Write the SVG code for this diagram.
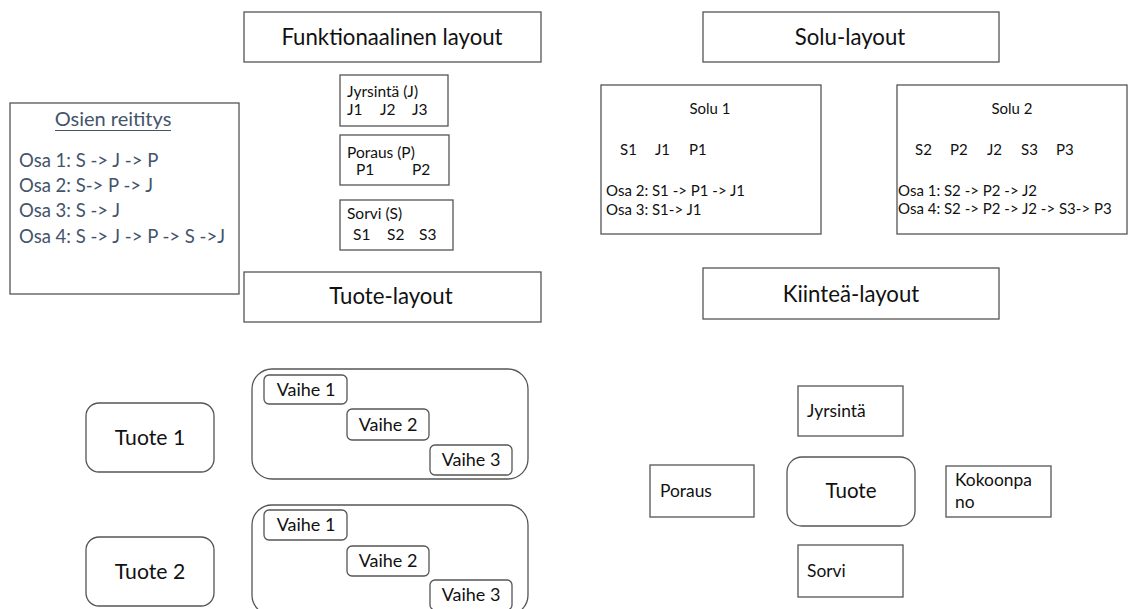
<svg xmlns="http://www.w3.org/2000/svg" width="1131" height="609" viewBox="0 0 1131 609">
  <style>
    .box { fill: #ffffff; stroke: #555555; stroke-width: 1.3; }
    .rbox { fill: #ffffff; stroke: #555555; stroke-width: 1.3; }
    text { font-family: Lato, "Liberation Sans", sans-serif; fill: #111111; }
    .head { font-size: 22.2px; text-anchor: middle; }
    .big { font-size: 21.2px; text-anchor: middle; }
    .step { font-size: 18px; text-anchor: middle; }
    .mid { font-size: 17.4px; }
    .small { font-size: 15.5px; }
    .cell { font-size: 15px; }
    .route { font-size: 18.5px; fill: #44546A; }
    .title { font-size: 20px; fill: #44546A; text-anchor: middle; }
  </style>

  <rect width="1131" height="609" fill="#ffffff"/>

  <!-- Routing of parts -->
  <g id="osien-reititys">
    <rect class="box" x="10" y="103" width="229" height="191"/>
    <text class="title" x="113" y="126">Osien reititys</text>
    <line x1="55" y1="130.5" x2="171" y2="130.5" stroke="#44546A" stroke-width="1.2"/>
    <text class="route" x="19" y="167">Osa 1: S -&gt; J -&gt; P</text>
    <text class="route" x="19" y="192">Osa 2: S-&gt; P -&gt; J</text>
    <text class="route" x="19" y="217">Osa 3: S -&gt; J</text>
    <text class="route" x="19" y="243">Osa 4: S -&gt; J -&gt; P -&gt; S -&gt;J</text>
  </g>

  <!-- Functional layout -->
  <g id="funktionaalinen-layout">
    <rect class="box" x="244" y="12" width="297" height="50"/>
    <text class="head" x="392" y="45">Funktionaalinen layout</text>
  </g>
  <g id="jyrsinta-j">
    <rect class="box" x="340" y="75" width="108" height="51"/>
    <text class="small" x="347" y="97">Jyrsintä (J)</text>
    <text class="small" x="347" y="115">J1</text>
    <text class="small" x="380" y="115">J2</text>
    <text class="small" x="412" y="115">J3</text>
  </g>
  <g id="poraus-p">
    <rect class="box" x="340" y="135" width="109" height="50"/>
    <text class="small" x="347" y="158">Poraus (P)</text>
    <text class="small" x="356" y="175">P1</text>
    <text class="small" x="412" y="175">P2</text>
  </g>
  <g id="sorvi-s">
    <rect class="box" x="340" y="200" width="113" height="50"/>
    <text class="small" x="347" y="219">Sorvi (S)</text>
    <text class="small" x="353" y="240">S1</text>
    <text class="small" x="387" y="240">S2</text>
    <text class="small" x="419" y="240">S3</text>
  </g>

  <!-- Cell layout -->
  <g id="solu-layout">
    <rect class="box" x="703" y="12" width="296" height="50"/>
    <text class="head" x="850" y="45">Solu-layout</text>
  </g>
  <g id="solu-1">
    <rect class="box" x="601" y="85" width="220" height="149"/>
    <text class="cell" x="710" y="114" text-anchor="middle">Solu 1</text>
    <text class="cell" x="620" y="155">S1</text>
    <text class="cell" x="655" y="155">J1</text>
    <text class="cell" x="689" y="155">P1</text>
    <text class="cell" x="606" y="196">Osa 2: S1 -&gt; P1 -&gt; J1</text>
    <text class="cell" x="606" y="215">Osa 3: S1-&gt; J1</text>
  </g>
  <g id="solu-2">
    <rect class="box" x="897" y="85" width="230" height="149"/>
    <text class="cell" x="1012" y="114" text-anchor="middle">Solu 2</text>
    <text class="cell" x="915" y="155">S2</text>
    <text class="cell" x="950" y="155">P2</text>
    <text class="cell" x="987" y="155">J2</text>
    <text class="cell" x="1021" y="155">S3</text>
    <text class="cell" x="1056" y="155">P3</text>
    <text class="cell" x="898" y="196">Osa 1: S2 -&gt; P2 -&gt; J2</text>
    <text class="cell" x="898" y="214">Osa 4: S2 -&gt; P2 -&gt; J2 -&gt; S3-&gt; P3</text>
  </g>

  <!-- Product layout -->
  <g id="tuote-layout">
    <rect class="box" x="244" y="272" width="297" height="50"/>
    <text class="head" x="391" y="304">Tuote-layout</text>
  </g>
  <g id="tuote-1">
    <rect class="rbox" x="86" y="403" width="128" height="69" rx="13"/>
    <text class="big" x="150" y="445">Tuote 1</text>
  </g>
  <g id="tuote-2">
    <rect class="rbox" x="86" y="537" width="128" height="69" rx="13"/>
    <text class="big" x="150" y="579">Tuote 2</text>
  </g>
  <g id="vaiheet-1">
    <rect class="rbox" x="252" y="369" width="276" height="110" rx="20"/>
    <rect class="rbox" x="264" y="375" width="83" height="29" rx="5"/>
    <text class="step" x="306" y="396">Vaihe 1</text>
    <rect class="rbox" x="347" y="409" width="82" height="31" rx="5"/>
    <text class="step" x="388" y="431">Vaihe 2</text>
    <rect class="rbox" x="430" y="445" width="82" height="30" rx="5"/>
    <text class="step" x="471" y="466">Vaihe 3</text>
  </g>
  <g id="vaiheet-2">
    <rect class="rbox" x="252" y="505" width="276" height="110" rx="20"/>
    <rect class="rbox" x="264" y="510" width="83" height="30" rx="5"/>
    <text class="step" x="306" y="531">Vaihe 1</text>
    <rect class="rbox" x="347" y="546" width="82" height="30" rx="5"/>
    <text class="step" x="388" y="567">Vaihe 2</text>
    <rect class="rbox" x="430" y="580" width="82" height="30" rx="5"/>
    <text class="step" x="471" y="601">Vaihe 3</text>
  </g>

  <!-- Fixed-position layout -->
  <g id="kiintea-layout">
    <rect class="box" x="703" y="268" width="296" height="51"/>
    <text class="head" x="851" y="302">Kiinteä-layout</text>
  </g>
  <g id="jyrsinta">
    <rect class="box" x="798" y="386" width="105" height="50"/>
    <text class="mid" x="807" y="417">Jyrsintä</text>
  </g>
  <g id="tuote">
    <rect class="rbox" x="787" y="457" width="128" height="69" rx="15"/>
    <text class="big" x="851" y="498" style="font-size:20.5px">Tuote</text>
  </g>
  <g id="poraus">
    <rect class="box" x="650" y="465" width="104" height="52"/>
    <text class="mid" x="660" y="497">Poraus</text>
  </g>
  <g id="kokoonpano">
    <rect class="box" x="946" y="466" width="105" height="51"/>
    <text class="mid" x="955" y="486">Kokoonpa</text>
    <text class="mid" x="955" y="508">no</text>
  </g>
  <g id="sorvi">
    <rect class="box" x="798" y="545" width="105" height="52"/>
    <text class="mid" x="807" y="577">Sorvi</text>
  </g>
</svg>
